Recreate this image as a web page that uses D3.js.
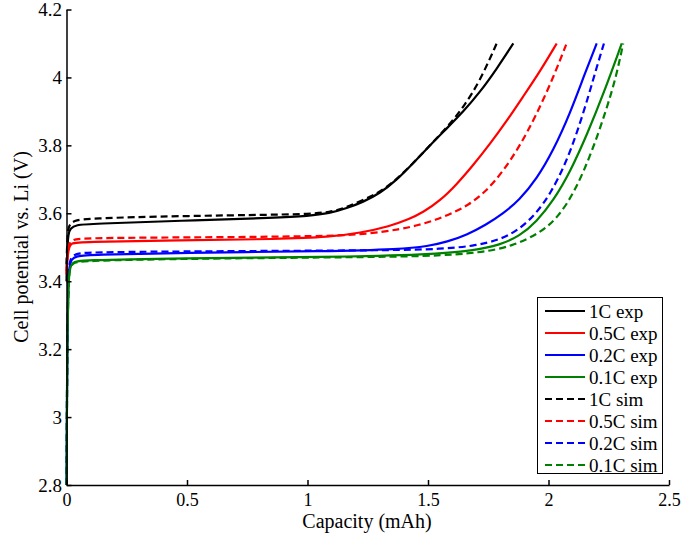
<!DOCTYPE html>
<html>
<head>
<meta charset="utf-8">
<script src="https://cdn.jsdelivr.net/npm/d3@7"></script>
<style>
  html, body { margin: 0; padding: 0; background: #fff; }
  svg { display: block; }
  text { font-family: "Liberation Serif", "Times New Roman", serif; fill: #000; }
</style>
</head>
<body>
<svg id="chart" width="682" height="539"></svg>
<script>
// ---- Data (capacity in mAh, potential in V) ----
const xTicks = [0, 0.5, 1, 1.5, 2, 2.5];
const xTickLabels = ["0", "0.5", "1", "1.5", "2", "2.5"];
const yTicks = [2.8, 3, 3.2, 3.4, 3.6, 3.8, 4, 4.2];
const yTickLabels = ["2.8", "3", "3.2", "3.4", "3.6", "3.8", "4", "4.2"];

const exp1C = [[0,3.40],[0.003,3.50],[0.008,3.54],[0.015,3.555],[0.04,3.566],[0.1,3.569],[0.47,3.578],[0.886,3.587],[1.0,3.592],[1.093,3.60],[1.163,3.615],[1.23,3.633],[1.301,3.659],[1.37,3.698],[1.439,3.748],[1.508,3.80],[1.578,3.85],[1.647,3.90],[1.716,3.957],[1.785,4.025],[1.854,4.10]];
const exp05C = [[0,3.42],[0.004,3.47],[0.01,3.50],[0.02,3.512],[0.05,3.516],[0.47,3.52],[0.886,3.524],[1.093,3.53],[1.218,3.542],[1.342,3.562],[1.42,3.582],[1.48,3.603],[1.55,3.637],[1.619,3.685],[1.688,3.742],[1.757,3.804],[1.827,3.872],[1.895,3.944],[1.965,4.018],[2.034,4.10]];
const exp02C = [[0,2.8],[0.003,3.2],[0.007,3.40],[0.012,3.445],[0.02,3.465],[0.04,3.474],[0.1,3.478],[0.47,3.484],[1.093,3.488],[1.384,3.494],[1.50,3.503],[1.58,3.516],[1.66,3.536],[1.74,3.566],[1.81,3.598],[1.88,3.640],[1.95,3.700],[2.02,3.785],[2.09,3.895],[2.15,4.010],[2.20,4.10]];
const exp01C = [[0,2.8],[0.003,3.2],[0.008,3.40],[0.014,3.44],[0.025,3.455],[0.05,3.462],[0.47,3.468],[1.093,3.471],[1.508,3.478],[1.688,3.49],[1.80,3.507],[1.88,3.533],[1.95,3.575],[2.02,3.637],[2.09,3.722],[2.16,3.832],[2.23,3.955],[2.304,4.10]];

const sim1C = [[0,3.45],[0.004,3.54],[0.01,3.565],[0.03,3.578],[0.08,3.585],[0.47,3.592],[0.886,3.596],[1.0,3.598],[1.093,3.603],[1.163,3.617],[1.301,3.661],[1.37,3.70],[1.439,3.748],[1.508,3.80],[1.578,3.852],[1.647,3.912],[1.716,3.99],[1.785,4.10]];
const sim05C = [[0,3.43],[0.004,3.48],[0.01,3.51],[0.025,3.522],[0.06,3.527],[0.47,3.529],[1.093,3.532],[1.259,3.540],[1.384,3.553],[1.46,3.565],[1.53,3.580],[1.60,3.600],[1.67,3.625],[1.74,3.664],[1.81,3.722],[1.88,3.797],[1.95,3.890],[2.02,4.000],[2.075,4.10]];
const sim02C = [[0,2.8],[0.003,3.2],[0.007,3.41],[0.012,3.455],[0.02,3.47],[0.04,3.482],[0.1,3.485],[0.47,3.488],[1.384,3.491],[1.55,3.495],[1.688,3.503],[1.80,3.522],[1.88,3.553],[1.95,3.600],[2.01,3.660],[2.07,3.745],[2.12,3.840],[2.17,3.955],[2.20,4.03],[2.23,4.10]];
const sim01C = [[0,2.8],[0.003,3.2],[0.008,3.40],[0.014,3.44],[0.025,3.452],[0.05,3.46],[0.47,3.466],[1.093,3.47],[1.508,3.473],[1.72,3.484],[1.85,3.503],[1.965,3.542],[2.04,3.588],[2.11,3.665],[2.18,3.780],[2.24,3.905],[2.28,4.000],[2.31,4.10]];

const seriesNames = ["1C exp", "0.5C exp", "0.2C exp", "0.1C exp", "1C sim", "0.5C sim", "0.2C sim", "0.1C sim"];
const seriesData = [exp1C, exp05C, exp02C, exp01C, sim1C, sim05C, sim02C, sim01C];
const seriesColors = ["#000000", "#ff0000", "#0000ff", "#008000", "#000000", "#ff0000", "#0000ff", "#008000"];
const seriesDashed = [false, false, false, false, true, true, true, true];

// ---- Layout ----
const svg = d3.select("#chart");
const x = d3.scaleLinear().domain([0, 2.5]).range([66.5, 669]);
const y = d3.scaleLinear().domain([2.8, 4.2]).range([485, 9.5]);

const line = d3.line()
  .x(d => x(d[0]))
  .y(d => y(d[1]))
  .curve(d3.curveBasis);

// Curves
const g = svg.append("g");
seriesData.forEach((data, i) => {
  g.append("path")
    .datum(data)
    .attr("d", line)
    .attr("fill", "none")
    .attr("stroke", seriesColors[i])
    .attr("stroke-width", 2.2)
    .attr("stroke-dasharray", seriesDashed[i] ? "7,4" : null)
    .attr("stroke-linejoin", "round");
});

// Axes
const xAxis = d3.axisBottom(x)
  .tickValues(xTicks)
  .tickFormat((d, i) => xTickLabels[i])
  .tickSizeInner(-5)
  .tickSizeOuter(0)
  .tickPadding(8);
const yAxis = d3.axisLeft(y)
  .tickValues(yTicks)
  .tickFormat((d, i) => yTickLabels[i])
  .tickSizeInner(-5)
  .tickSizeOuter(0)
  .tickPadding(4.5);

const gx = svg.append("g").attr("transform", `translate(0,${y(2.8)})`).call(xAxis);
const gy = svg.append("g").attr("transform", `translate(${x(0)},0)`).call(yAxis);
[gx, gy].forEach(a => {
  a.select(".domain").attr("stroke", "#000").attr("stroke-width", 1.5);
  a.selectAll(".tick line").attr("stroke", "#000").attr("stroke-width", 1.5);
});
gx.selectAll(".tick text")
  .style("font-family", '"Liberation Serif", "Times New Roman", serif')
  .style("font-size", "18px")
  .attr("fill", "#000");
gy.selectAll(".tick text")
  .style("font-family", '"Liberation Serif", "Times New Roman", serif')
  .style("font-size", "19px")
  .attr("fill", "#000");

// Axis titles
svg.append("text")
  .attr("x", 367)
  .attr("y", 528)
  .attr("text-anchor", "middle")
  .style("font-size", "20px")
  .text("Capacity (mAh)");

svg.append("text")
  .attr("transform", `translate(28,247) rotate(-90)`)
  .attr("text-anchor", "middle")
  .style("font-size", "20px")
  .text("Cell potential vs. Li (V)");

// Legend
const lg = svg.append("g");
lg.append("rect")
  .attr("x", 537.5).attr("y", 297.5)
  .attr("width", 125).attr("height", 176)
  .attr("fill", "#fff")
  .attr("stroke", "#000")
  .attr("stroke-width", 1);
seriesNames.forEach((name, i) => {
  const cy = 311 + 22 * i;
  lg.append("line")
    .attr("x1", 545).attr("x2", 585)
    .attr("y1", cy).attr("y2", cy)
    .attr("stroke", seriesColors[i])
    .attr("stroke-width", 2.2)
    .attr("stroke-dasharray", seriesDashed[i] ? "7,4" : null);
  lg.append("text")
    .attr("x", 589)
    .attr("y", cy)
    .attr("dy", "0.35em")
    .style("font-size", "19px")
    .text(name);
});
</script>
</body>
</html>
